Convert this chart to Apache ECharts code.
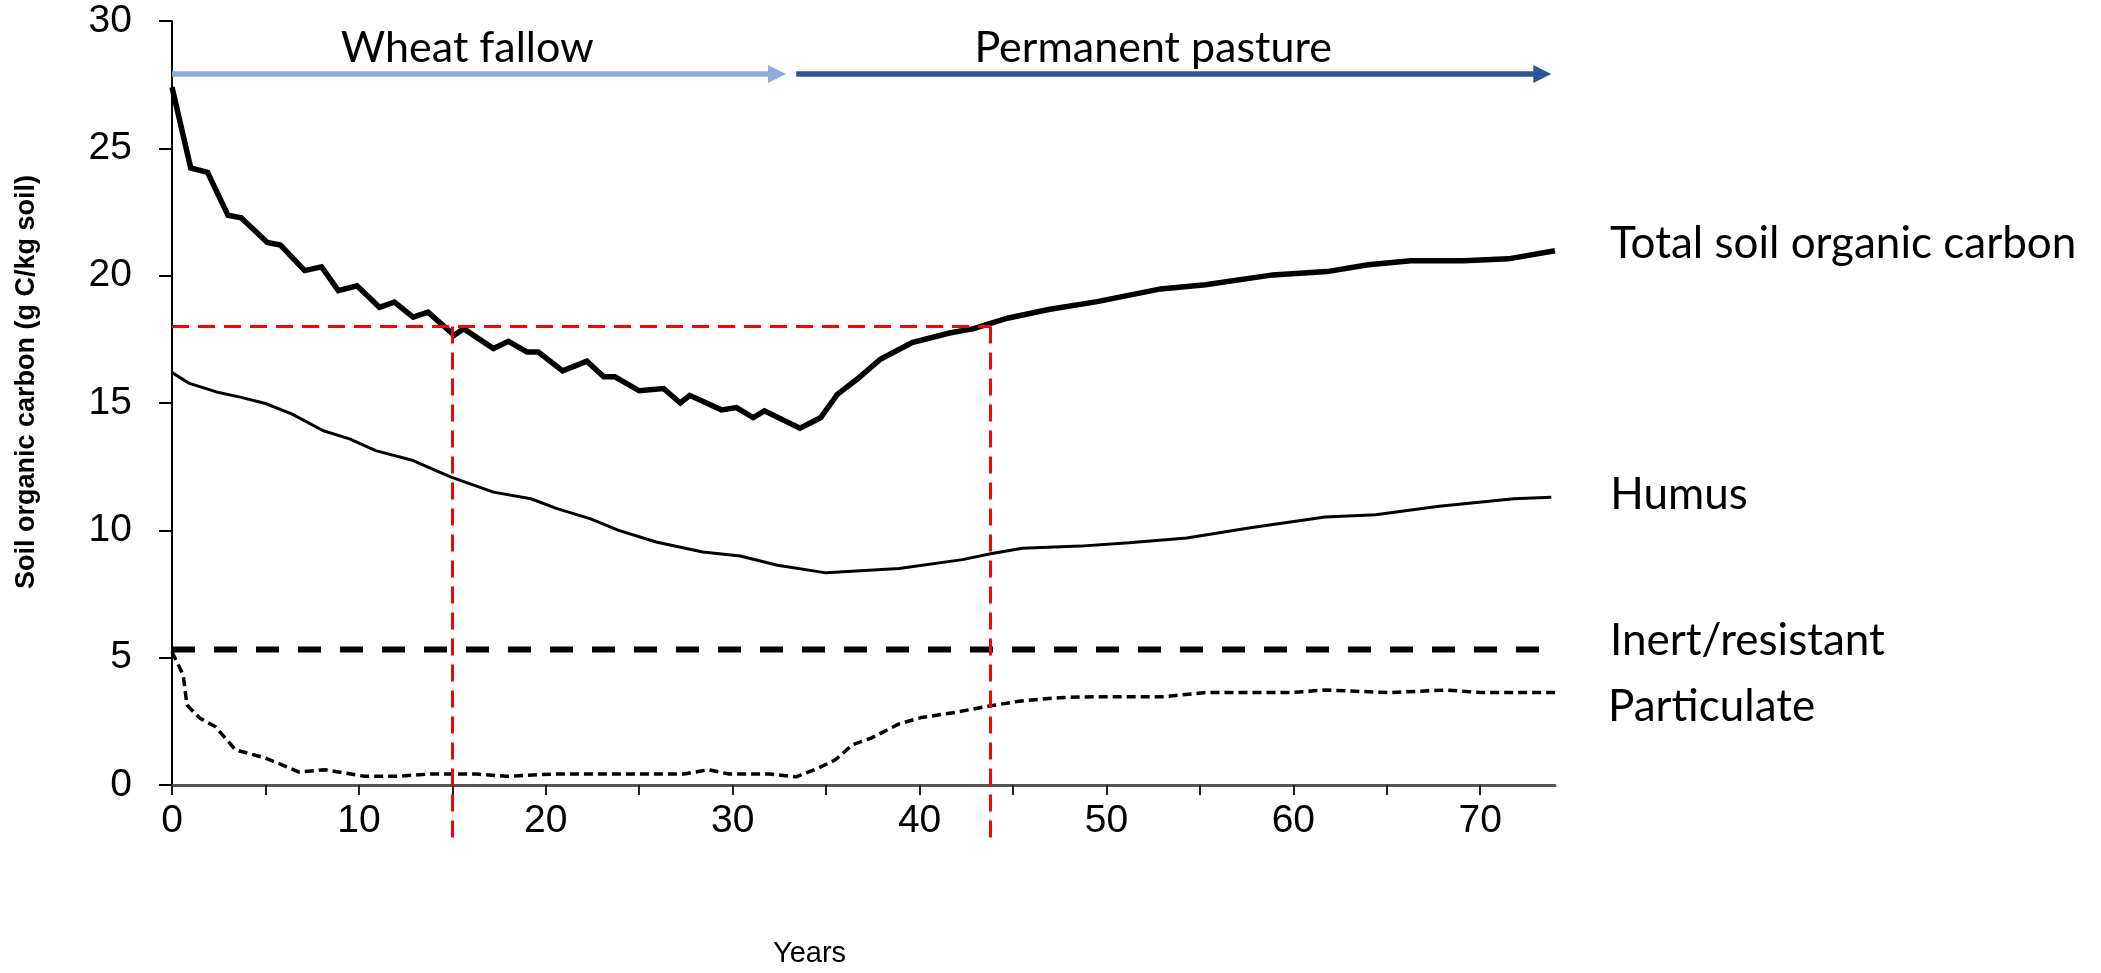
<!DOCTYPE html>
<html>
<head>
<meta charset="utf-8">
<title>Soil organic carbon under wheat fallow and permanent pasture</title>
<script src="https://cdn.jsdelivr.net/npm/echarts@6/dist/echarts.min.js"></script>
<style>
  html, body { margin: 0; padding: 0; background: #ffffff; }
  #chart { width: 2101px; height: 973px; }
</style>
</head>
<body>
<div id="chart"></div>
<script>
// ---- data: [year, g C / kg soil] ----
const totalSoc = [
  [0, 27.4], [1.0, 24.23], [1.9, 24.06], [3.0, 22.37], [3.7, 22.27], [5.1, 21.3], [5.8, 21.2],
  [7.1, 20.2], [8.0, 20.35], [8.9, 19.41], [9.9, 19.6], [11.1, 18.76], [11.9, 18.96], [12.9, 18.37],
  [13.7, 18.57], [15.1, 17.66], [15.6, 17.92], [17.2, 17.14], [18.0, 17.42], [19.0, 17.0], [19.6, 17.0],
  [20.9, 16.26], [22.2, 16.64], [23.1, 16.03], [23.7, 16.03], [25.0, 15.48], [26.3, 15.57], [27.2, 15.0],
  [27.7, 15.3], [29.4, 14.73], [30.2, 14.82], [31.1, 14.43], [31.7, 14.69], [33.6, 14.01], [34.7, 14.42],
  [35.6, 15.34], [36.7, 15.96], [37.9, 16.72], [39.6, 17.37], [41.6, 17.75], [42.9, 17.92], [44.7, 18.33],
  [46.9, 18.67], [49.5, 18.98], [52.9, 19.48], [55.3, 19.64], [58.9, 20.03], [61.8, 20.16], [64.0, 20.43],
  [66.3, 20.59], [69.1, 20.59], [71.5, 20.66], [74.0, 20.98]
];
const humus = [
  [0, 16.2], [0.9, 15.78], [2.5, 15.41], [3.7, 15.22], [5.0, 14.98], [6.4, 14.57], [8.1, 13.91],
  [9.5, 13.59], [10.9, 13.13], [12.9, 12.74], [14.9, 12.1], [17.2, 11.5], [19.2, 11.24], [20.6, 10.85],
  [22.4, 10.45], [23.9, 10.0], [25.9, 9.54], [28.4, 9.15], [30.4, 8.99], [32.4, 8.63], [35.0, 8.33],
  [38.9, 8.5], [42.3, 8.85], [43.8, 9.08], [45.5, 9.3], [48.6, 9.38], [51.2, 9.51], [54.3, 9.7],
  [57.7, 10.1], [61.7, 10.52], [64.4, 10.61], [67.8, 10.95], [71.8, 11.24], [73.8, 11.3]
];
const inertResistant = [[0, 5.32], [74, 5.32]];
const particulate = [
  [0, 5.23], [0.6, 4.32], [0.8, 3.14], [1.5, 2.62], [2.3, 2.3], [3.4, 1.38], [5.0, 1.06], [6.8, 0.51],
  [8.2, 0.6], [10.3, 0.34], [12.0, 0.34], [13.8, 0.43], [16.3, 0.43], [17.9, 0.34], [20.4, 0.43],
  [27.4, 0.43], [28.7, 0.6], [29.8, 0.43], [32.0, 0.43], [33.4, 0.32], [34.6, 0.67], [35.5, 0.99],
  [36.4, 1.58], [37.4, 1.84], [38.9, 2.4], [40.1, 2.65], [41.9, 2.85], [43.8, 3.11], [45.4, 3.3],
  [47.5, 3.43], [49.4, 3.47], [53.1, 3.47], [55.3, 3.63], [59.9, 3.63], [61.7, 3.73], [65.1, 3.63],
  [68.2, 3.73], [70.0, 3.63], [74.0, 3.63]
];
const seriesNames = ['Total soil organic carbon', 'Humus', 'Inert/resistant', 'Particulate'];

// land-use phases: name, [start year, end year], arrow level and label anchor
const phaseNames = ['Wheat fallow', 'Permanent pasture'];
const phaseSpans = [[0, 32.37], [33.4, 73.32]];
const phaseArrowLevel = 27.92;
const phaseLabelAnchors = [[15.8, 28.0], [52.5, 28.0]];

// same carbon level (18 g C/kg) reached at year 15 and again at year 43.8
const referenceLevel = 18;
const referenceYears = [15, 43.8];
const referenceDrop = -2.4;

// axis ticks
const xTickLabels = [0, 10, 20, 30, 40, 50, 60, 70];
const xTickMarks = [0, 5, 10, 15, 20, 25, 30, 35, 40, 45, 50, 55, 60, 65, 70];
const yTickLabels = [0, 5, 10, 15, 20, 25, 30];

const arialLike = "'Liberation Sans', Arial, Helvetica, sans-serif";
const officeLike = "Lato, 'Open Sans', sans-serif";

const chart = echarts.init(document.getElementById('chart'), null, { renderer: 'canvas' });

function endLabel(text, distance, dy) {
  return {
    show: true,
    formatter: text,
    distance: distance,
    offset: [0, dy],
    fontFamily: officeLike,
    fontSize: 44,
    color: '#000'
  };
}

const refLines = [{ coords: [[0, referenceLevel], [referenceYears[1], referenceLevel]] }]
  .concat(referenceYears.map(y => ({ coords: [[y, referenceLevel], [y, referenceDrop]] })));

chart.setOption({
  animation: false,
  backgroundColor: '#ffffff',
  grid: { left: 172, right: 546, top: 21, bottom: 185, containLabel: false },
  xAxis: {
    type: 'value',
    min: 0,
    max: 74,
    interval: 10,
    name: 'Years',
    nameLocation: 'middle',
    nameGap: 154,
    nameTextStyle: { fontFamily: arialLike, fontSize: 29, color: '#000', padding: [0, 108, 0, 0] },
    axisLine: { show: true, lineStyle: { color: '#555', width: 3 } },
    axisTick: { show: true, customValues: xTickMarks, length: 10, lineStyle: { color: '#222', width: 2 } },
    axisLabel: {
      customValues: xTickLabels,
      fontFamily: arialLike, fontSize: 39, color: '#000', margin: 17
    },
    splitLine: { show: false }
  },
  yAxis: {
    type: 'value',
    min: 0,
    max: 30,
    interval: 5,
    name: 'Soil organic carbon (g C/kg soil)',
    nameLocation: 'middle',
    nameRotate: 90,
    nameGap: 132,
    nameTextStyle: {
      fontFamily: arialLike, fontSize: 27, fontWeight: 'bold', color: '#000', padding: [0, 0, 0, 42]
    },
    axisLine: { show: true, lineStyle: { color: '#000', width: 2 } },
    axisTick: { show: true, customValues: yTickLabels, length: 13, lineStyle: { color: '#000', width: 2 } },
    axisLabel: { customValues: yTickLabels, fontFamily: arialLike, fontSize: 39, color: '#000', margin: 40 },
    splitLine: { show: false }
  },
  series: [
    {
      name: seriesNames[0], type: 'line', data: totalSoc, symbol: 'none', z: 5,
      lineStyle: { color: '#000', width: 5.5, join: 'miter' },
      endLabel: endLabel(seriesNames[0], 55, -7)
    },
    {
      name: seriesNames[1], type: 'line', data: humus, symbol: 'none', z: 4,
      lineStyle: { color: '#000', width: 3 },
      endLabel: endLabel(seriesNames[1], 59, -2)
    },
    {
      name: seriesNames[2], type: 'line', data: inertResistant, symbol: 'none', z: 4,
      lineStyle: { color: '#000', width: 6, type: [23, 19] },
      endLabel: endLabel(seriesNames[2], 55, -9)
    },
    {
      name: seriesNames[3], type: 'line', data: particulate, symbol: 'none', z: 4,
      lineStyle: { color: '#000', width: 3.5, type: [9, 5] },
      endLabel: endLabel(seriesNames[3], 53, 14)
    },
    {
      name: 'reference', type: 'lines', coordinateSystem: 'cartesian2d', clip: false, silent: true, z: 6,
      data: refLines,
      lineStyle: { color: '#ff0000', width: 3, type: [17, 9], opacity: 1 }
    },
    {
      name: 'phases', type: 'lines', coordinateSystem: 'cartesian2d', clip: false, silent: true, z: 6,
      symbol: ['none', 'triangle'],
      symbolSize: 18,
      data: phaseSpans.map((s, i) => ({
        coords: [[s[0], phaseArrowLevel], [s[1], phaseArrowLevel]],
        lineStyle: { color: i === 0 ? '#8FAADC' : '#2F5597' }
      })),
      lineStyle: { width: 5.5, opacity: 1 }
    },
    {
      name: 'phase labels', type: 'scatter', silent: true, z: 7,
      data: phaseLabelAnchors,
      symbolSize: 0,
      itemStyle: { color: '#000', opacity: 1 },
      label: {
        show: true,
        position: 'top',
        distance: 2,
        formatter: p => phaseNames[p.dataIndex],
        fontFamily: officeLike,
        fontSize: 43,
        color: '#000000',
        opacity: 1
      }
    }
  ]
});
</script>
</body>
</html>
